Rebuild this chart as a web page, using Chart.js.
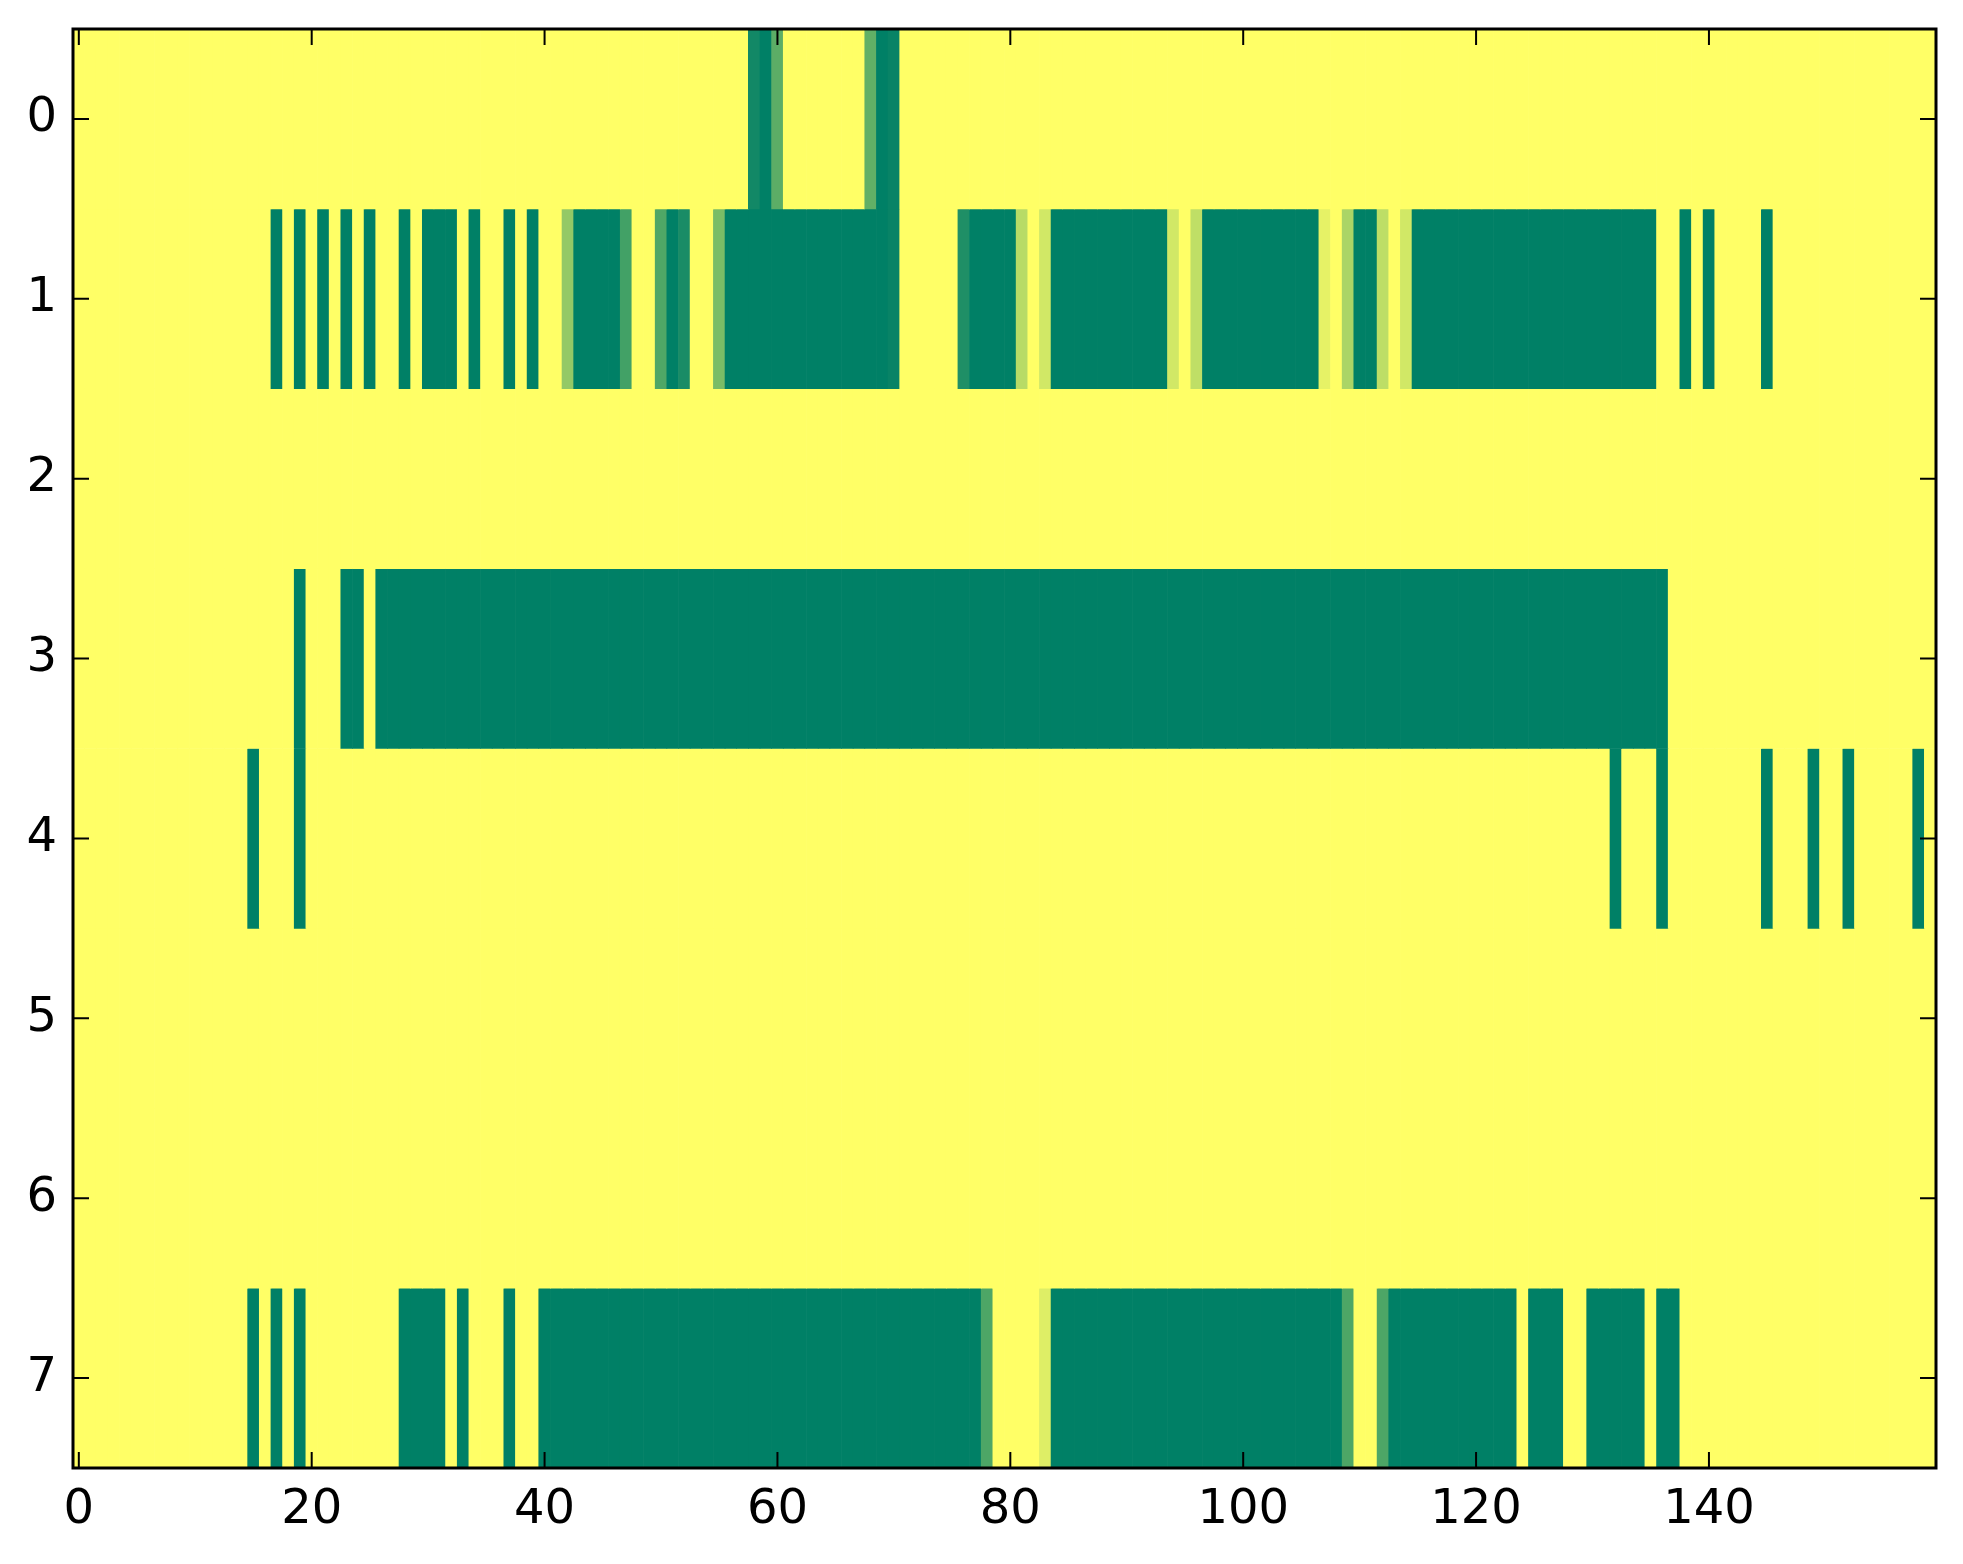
<!DOCTYPE html>
<html>
<head>
<meta charset="utf-8">
<script src="https://cdn.jsdelivr.net/npm/chart.js@4.4.1/dist/chart.umd.min.js"></script>
<style>
  html, body { margin: 0; padding: 0; background: #fff; }
  #wrap { width: 1963px; height: 1564px; }
</style>
</head>
<body>
<div id="wrap"><canvas id="heat"></canvas></div>
<script>
// one label per image column (0..159)
const columns = Array.from({ length: 160 }, (_, i) => String(i));
const xTicks = [0, 20, 40, 60, 80, 100, 120, 140];
const yTicks = [0, 1, 2, 3, 4, 5, 6, 7];

// cell values per row, 0 = dark green, 1 = yellow (summer colormap)
const row0 = [
  1,1,1,1,1,1,1,1,1,1, 1,1,1,1,1,1,1,1,1,1, 1,1,1,1,1,1,1,1,1,1, 1,1,1,1,1,1,1,1,1,1,
  1,1,1,1,1,1,1,1,1,1, 1,1,1,1,1,1,1,1,0.07,0, 0.36,1,1,1,1,1,1,1,0.38,0, 0.03,1,1,1,1,1,1,1,1,1,
  1,1,1,1,1,1,1,1,1,1, 1,1,1,1,1,1,1,1,1,1, 1,1,1,1,1,1,1,1,1,1, 1,1,1,1,1,1,1,1,1,1,
  1,1,1,1,1,1,1,1,1,1, 1,1,1,1,1,1,1,1,1,1, 1,1,1,1,1,1,1,1,1,1, 1,1,1,1,1,1,1,1,1,1
];
const row1 = [
  1,1,1,1,1,1,1,1,1,1, 1,1,1,1,1,1,1,0,1,0, 1,0,1,0,1,0,1,1,0,1, 0,0,0,1,0,1,1,0,1,0,
  1,1,0.58,0,0,0,0,0.26,1,1, 0.31,0,0.1,1,1,0.48,0,0,0,0, 0,0,0,0,0,0,0,0,0,0, 0.03,1,1,1,1,1,0.12,0,0,0,
  0,0.72,1,0.82,0,0,0,0,0,0, 0,0,0,0,0.82,1,0.75,0,0,0, 0,0,0,0,0,0,0,0.9,1,0.67, 0,0,0.74,1,0.82,0,0,0,0,0,
  0,0,0,0,0,0,0,0,0,0, 0,0,0,0,0,0,1,1,0,1, 0,1,1,1,1,0,1,1,1,1, 1,1,1,1,1,1,1,1,1,1
];
const row2 = [
  1,1,1,1,1,1,1,1,1,1, 1,1,1,1,1,1,1,1,1,1, 1,1,1,1,1,1,1,1,1,1, 1,1,1,1,1,1,1,1,1,1,
  1,1,1,1,1,1,1,1,1,1, 1,1,1,1,1,1,1,1,1,1, 1,1,1,1,1,1,1,1,1,1, 1,1,1,1,1,1,1,1,1,1,
  1,1,1,1,1,1,1,1,1,1, 1,1,1,1,1,1,1,1,1,1, 1,1,1,1,1,1,1,1,1,1, 1,1,1,1,1,1,1,1,1,1,
  1,1,1,1,1,1,1,1,1,1, 1,1,1,1,1,1,1,1,1,1, 1,1,1,1,1,1,1,1,1,1, 1,1,1,1,1,1,1,1,1,1
];
const row3 = [
  1,1,1,1,1,1,1,1,1,1, 1,1,1,1,1,1,1,1,1,0, 1,1,1,0,0,1,0,0,0,0, 0,0,0,0,0,0,0,0,0,0,
  0,0,0,0,0,0,0,0,0,0, 0,0,0,0,0,0,0,0,0,0, 0,0,0,0,0,0,0,0,0,0, 0,0,0,0,0,0,0,0,0,0,
  0,0,0,0,0,0,0,0,0,0, 0,0,0,0,0,0,0,0,0,0, 0,0,0,0,0,0,0,0,0,0, 0,0,0,0,0,0,0,0,0,0,
  0,0,0,0,0,0,0,0,0,0, 0,0,0,0,0,0,0,1,1,1, 1,1,1,1,1,1,1,1,1,1, 1,1,1,1,1,1,1,1,1,1
];
const row4 = [
  1,1,1,1,1,1,1,1,1,1, 1,1,1,1,1,0,1,1,1,0, 1,1,1,1,1,1,1,1,1,1, 1,1,1,1,1,1,1,1,1,1,
  1,1,1,1,1,1,1,1,1,1, 1,1,1,1,1,1,1,1,1,1, 1,1,1,1,1,1,1,1,1,1, 1,1,1,1,1,1,1,1,1,1,
  1,1,1,1,1,1,1,1,1,1, 1,1,1,1,1,1,1,1,1,1, 1,1,1,1,1,1,1,1,1,1, 1,1,1,1,1,1,1,1,1,1,
  1,1,1,1,1,1,1,1,1,1, 1,1,0,1,1,1,0,1,1,1, 1,1,1,1,1,0,1,1,1,0, 1,1,0,1,1,1,1,1,0,1
];
const row5 = [
  1,1,1,1,1,1,1,1,1,1, 1,1,1,1,1,1,1,1,1,1, 1,1,1,1,1,1,1,1,1,1, 1,1,1,1,1,1,1,1,1,1,
  1,1,1,1,1,1,1,1,1,1, 1,1,1,1,1,1,1,1,1,1, 1,1,1,1,1,1,1,1,1,1, 1,1,1,1,1,1,1,1,1,1,
  1,1,1,1,1,1,1,1,1,1, 1,1,1,1,1,1,1,1,1,1, 1,1,1,1,1,1,1,1,1,1, 1,1,1,1,1,1,1,1,1,1,
  1,1,1,1,1,1,1,1,1,1, 1,1,1,1,1,1,1,1,1,1, 1,1,1,1,1,1,1,1,1,1, 1,1,1,1,1,1,1,1,1,1
];
const row6 = [
  1,1,1,1,1,1,1,1,1,1, 1,1,1,1,1,1,1,1,1,1, 1,1,1,1,1,1,1,1,1,1, 1,1,1,1,1,1,1,1,1,1,
  1,1,1,1,1,1,1,1,1,1, 1,1,1,1,1,1,1,1,1,1, 1,1,1,1,1,1,1,1,1,1, 1,1,1,1,1,1,1,1,1,1,
  1,1,1,1,1,1,1,1,1,1, 1,1,1,1,1,1,1,1,1,1, 1,1,1,1,1,1,1,1,1,1, 1,1,1,1,1,1,1,1,1,1,
  1,1,1,1,1,1,1,1,1,1, 1,1,1,1,1,1,1,1,1,1, 1,1,1,1,1,1,1,1,1,1, 1,1,1,1,1,1,1,1,1,1
];
const row7 = [
  1,1,1,1,1,1,1,1,1,1, 1,1,1,1,1,0,1,0,1,0, 1,1,1,1,1,1,1,1,0,0, 0,0,1,0,1,1,1,0,1,1,
  0,0,0,0,0,0,0,0,0,0, 0,0,0,0,0,0,0,0,0,0, 0,0,0,0,0,0,0,0,0,0, 0,0,0,0,0,0,0,0,0.3,1,
  1,1,1,0.87,0,0,0,0,0,0, 0,0,0,0,0,0,0,0,0,0, 0,0,0,0,0,0,0,0,0,0.3, 1,1,0.3,0,0,0,0,0,0,0,
  0,0,0,0,1,0,0,0,1,1, 0,0,0,0,0,1,0,0,1,1, 1,1,1,1,1,1,1,1,1,1, 1,1,1,1,1,1,1,1,1,1
];
const rows = [row0, row1, row2, row3, row4, row5, row6, row7];

// matplotlib "summer": r = v, g = 0.5 + 0.5v, b = 0.4
const summer = (v) => `rgb(${Math.round(255 * v)}, ${Math.round(127.5 + 127.5 * v)}, 102)`;

const tickFont = { family: 'DejaVu Sans', size: 48 };

// inward ticks on all four sides plus the black frame
const frameTicks = {
  id: 'frameTicks',
  afterDraw(chart) {
    const { ctx, chartArea: a, scales: { x, y } } = chart;
    const len = 16;
    ctx.save();
    ctx.strokeStyle = '#000';
    ctx.lineWidth = 2;
    ctx.beginPath();
    for (const v of xTicks) {
      const px = x.getPixelForValue(v);
      ctx.moveTo(px, a.bottom); ctx.lineTo(px, a.bottom - len);
      ctx.moveTo(px, a.top); ctx.lineTo(px, a.top + len);
    }
    for (const v of yTicks) {
      const py = y.getPixelForValue(v);
      ctx.moveTo(a.left, py); ctx.lineTo(a.left + len, py);
      ctx.moveTo(a.right, py); ctx.lineTo(a.right - len, py);
    }
    ctx.stroke();
    ctx.lineWidth = 3;
    ctx.strokeRect(a.left, a.top, a.right - a.left, a.bottom - a.top);
    ctx.restore();
  }
};

new Chart(document.getElementById('heat'), {
  type: 'bar',
  data: {
    labels: columns,
    datasets: rows.map((vals, r) => ({
      label: 'row ' + r,
      data: vals.map(() => [r - 0.5, r + 0.5]),
      backgroundColor: vals.map(summer),
      borderWidth: 0,
      grouped: false,
      barPercentage: 1,
      categoryPercentage: 1
    }))
  },
  options: {
    responsive: true,
    maintainAspectRatio: false,
    animation: false,
    devicePixelRatio: 1,
    layout: { padding: { top: 29, right: 27, left: 0, bottom: 0 } },
    plugins: { legend: { display: false }, tooltip: { enabled: false } },
    scales: {
      x: {
        type: 'category',
        offset: true,
        grid: { display: false, drawTicks: false },
        border: { display: false },
        ticks: {
          autoSkip: false,
          maxRotation: 0,
          color: '#000',
          font: tickFont,
          padding: 14,
          callback: (val, i) => (xTicks.includes(i) ? columns[i] : '')
        },
        afterFit: (s) => { s.height = 96; s.paddingLeft = 0; s.paddingRight = 0; }
      },
      y: {
        type: 'linear',
        reverse: true,
        min: -0.5,
        max: 7.5,
        afterBuildTicks: (s) => { s.ticks = yTicks.map((v) => ({ value: v })); },
        grid: { display: false, drawTicks: false },
        border: { display: false },
        ticks: { color: '#000', font: tickFont, padding: 16 },
        afterFit: (s) => { s.width = 73; s.paddingTop = 0; s.paddingBottom = 0; }
      }
    }
  },
  plugins: [frameTicks]
});
</script>
</body>
</html>
